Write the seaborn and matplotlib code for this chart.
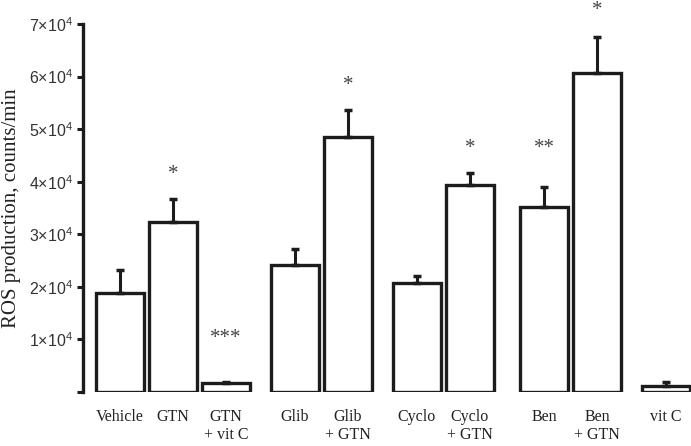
import matplotlib
matplotlib.use('Agg')
import matplotlib.pyplot as plt
import seaborn as sns
import numpy as np

# Valores (em unidades de 10^4 counts/min)
groups = ['Vehicle', 'GTN', 'GTN\n+ vit C', 'Glib', 'Glib\n+ GTN', 'Cyclo',
          'Cyclo\n+ GTN', 'Ben', 'Ben\n+ GTN', 'vit C']
means = [1.89, 3.24, 0.165, 2.41, 4.86, 2.07, 3.93, 3.52, 6.07, 0.12]
err_top = [2.32, 3.67, 0.20, 2.73, 5.37, 2.21, 4.16, 3.91, 6.75, 0.20]
stars = ['', '*', '***', '', '*', '', '*', '**', '*', '']
star_y = [0, 4.14, 1.01, 0, 5.83, 0, 4.63, 4.63, 7.25, 0]
yticks = [0, 1, 2, 3, 4, 5, 6, 7]

# posições das barras no eixo x (grupos separados por espaços)
xpos = [0, 1, 2, 3.3, 4.3, 5.6, 6.6, 8.0, 9.0, 10.3]

sns.set_style('white')
plt.rcParams['mathtext.fontset'] = 'custom'
plt.rcParams['mathtext.rm'] = 'Liberation Sans'
plt.rcParams['mathtext.it'] = 'Liberation Sans:italic'

dark = '#1c1c1c'
scale = 1e4

fig = plt.figure(figsize=(6.91, 4.46), dpi=100)
ax = fig.add_axes([0.120, 0.121, 0.880, 0.825])

vals = np.array(means) * scale
sns.barplot(x=xpos, y=vals, native_scale=True, width=0.9, color='white',
            edgecolor=dark, linewidth=2.4, saturation=1, errorbar=None, ax=ax)

upper = (np.array(err_top) - np.array(means)) * scale
ax.errorbar(xpos, vals, yerr=[np.zeros(len(vals)), upper], fmt='none',
            ecolor=dark, elinewidth=2.2, capsize=3, capthick=2.5, zorder=1)

for x, s, y in zip(xpos, stars, star_y):
    if s:
        ax.text(x, y * scale, s, ha='center', va='center', fontsize=15,
                family='Liberation Serif', color='#444444')

ax.set_xlim(-0.70, 10.77)
ax.set_ylim(0, 7 * scale)
ax.set_yticks([t * scale for t in yticks])
ax.set_yticklabels([''] + [r'$%d{\times}10^4$' % t for t in yticks[1:]],
                   fontsize=11.5, color='#333333')
ax.set_xticks(xpos)
ax.set_xticklabels(groups, family='Liberation Serif', fontsize=11.5, color='#222222')
ax.tick_params(axis='x', length=0, pad=12)
ax.tick_params(axis='y', direction='out', length=4, width=2.2, color=dark, pad=3, left=True)

for side in ['top', 'right', 'bottom']:
    ax.spines[side].set_visible(False)
ax.spines['left'].set_linewidth(2.4)
ax.spines['left'].set_color(dark)

ax.set_xlabel('')
ax.set_ylabel('ROS production, counts/min', family='Liberation Serif',
              fontsize=15, color='#222222', labelpad=6)

fig.savefig('out.png', dpi=100)
